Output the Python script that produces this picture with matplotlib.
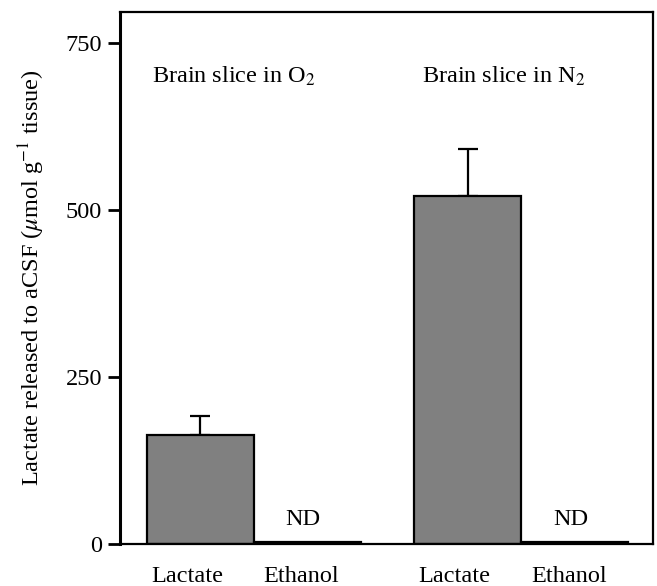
import matplotlib
matplotlib.use("Agg")
import matplotlib.pyplot as plt
from matplotlib.transforms import ScaledTranslation

plt.rcParams['font.family'] = ['Liberation Serif', 'DejaVu Serif']
plt.rcParams['mathtext.fontset'] = 'stix'

categories = ["Lactate", "Ethanol", "Lactate", "Ethanol"]
positions = [0, 1, 2.5, 3.5]
values = [163, 3, 521, 3]
errors = [28, 0, 70, 0]
nd_labels = ["", "ND", "", "ND"]
group_labels = [r"Brain slice in O$_2$", r"Brain slice in N$_2$"]
yticks = [0, 250, 500, 750]

FS = 17.5
fig = plt.figure(figsize=(6.57, 5.86), dpi=100)
ax = fig.add_axes([0.1826, 0.0717, 0.8113, 0.9078])

ax.bar(positions, values, width=1.0, color="#808080", edgecolor="black", linewidth=1.6, zorder=2)
for p, v, e in zip(positions, values, errors):
    if e > 0:
        ax.errorbar(p, v, yerr=[[0], [e]], fmt="none", ecolor="black", elinewidth=1.6,
                    capsize=7, capthick=1.6, zorder=1)

for p, lab in zip(positions, nd_labels):
    if lab:
        ax.text(p - 0.04, 28, lab, ha="center", va="baseline", fontsize=FS)

ax.text(-0.45, 690, group_labels[0], ha="left", va="baseline", fontsize=FS)
ax.text(2.07, 690, group_labels[1], ha="left", va="baseline", fontsize=FS)

ax.set_xlim(-0.75, 4.23)
ax.set_ylim(0, 796)
ax.set_yticks(yticks)
ax.set_yticklabels([str(t) for t in yticks], fontsize=FS)
ax.set_xticks(positions)
ax.set_xticklabels(categories, fontsize=FS)
ax.tick_params(axis="x", length=0, pad=16)
ax.tick_params(axis="y", length=9, width=2, direction="out", pad=4)
label_shift = [-13, -6, -14, -6]
for lbl, dx in zip(ax.get_xticklabels(), label_shift):
    lbl.set_transform(lbl.get_transform() + ScaledTranslation(dx / 100, 0, fig.dpi_scale_trans))
ax.set_ylabel(r"Lactate released to aCSF ($\mu$mol g$^{-1}$ tissue)", fontsize=FS)
ax.yaxis.set_label_coords(-0.137, 0.5)

ax.spines["left"].set_linewidth(2.2)
ax.spines["bottom"].set_linewidth(1.6)
ax.spines["top"].set_linewidth(1.6)
ax.spines["right"].set_linewidth(1.6)

fig.savefig("out.png", dpi=100)
